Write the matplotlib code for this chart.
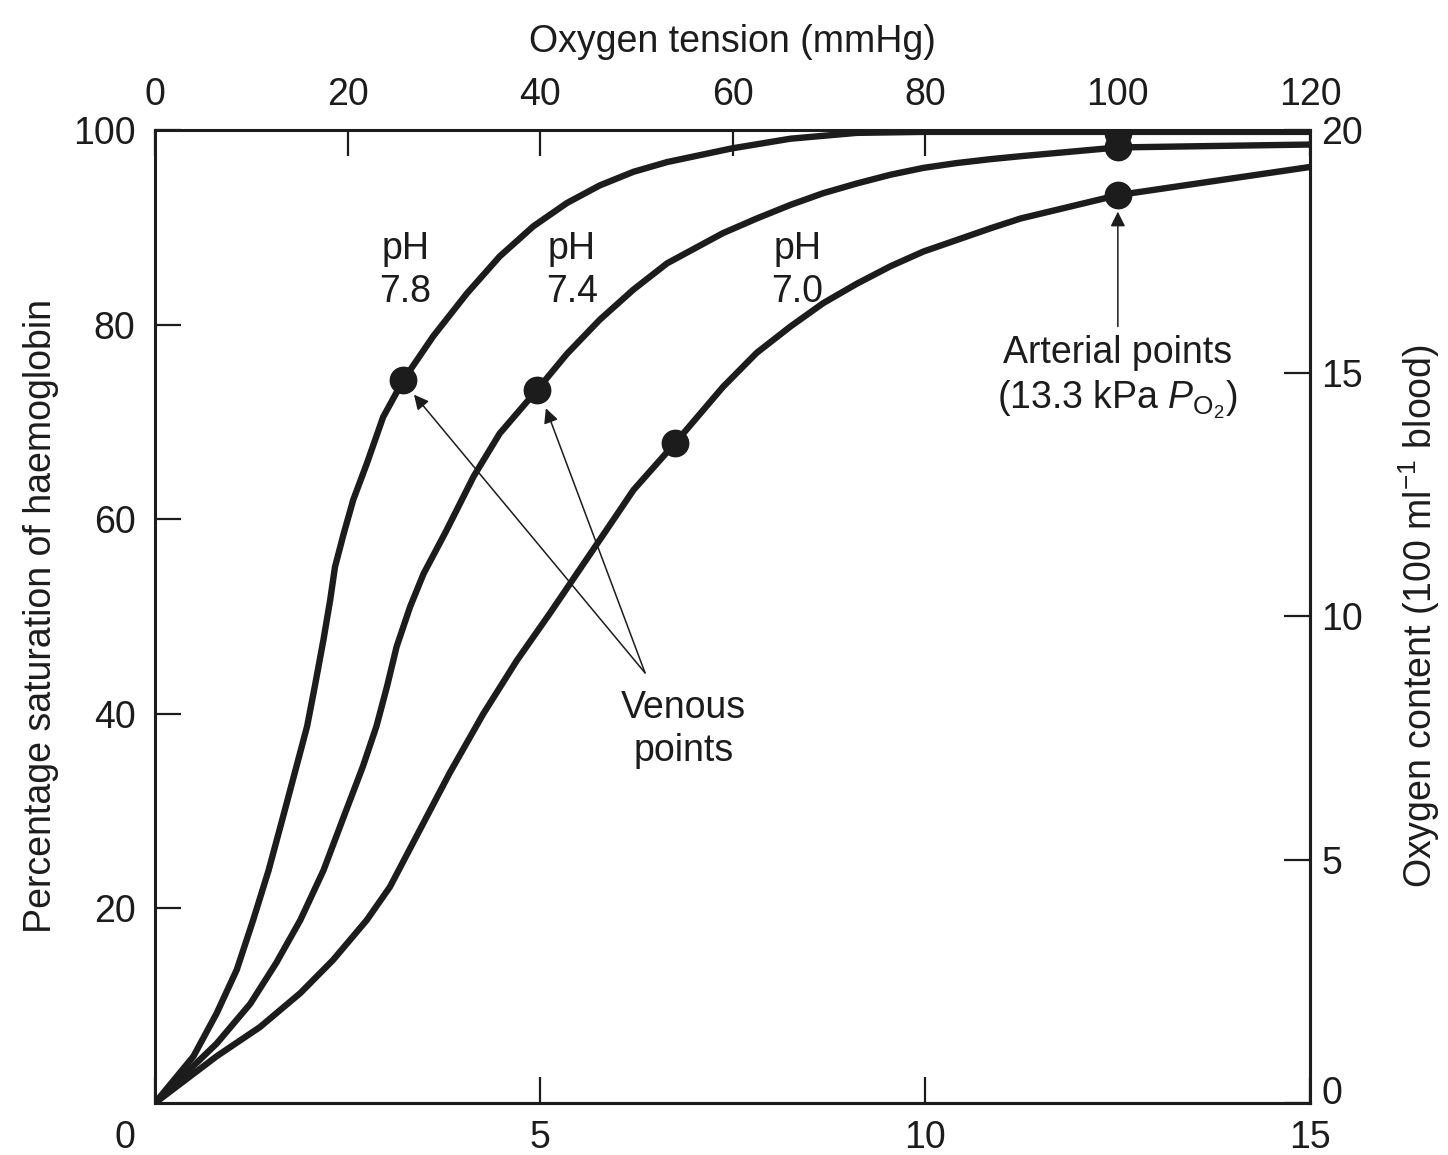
import numpy as np
import matplotlib
matplotlib.use('Agg')
import matplotlib.pyplot as plt
import matplotlib.transforms as mtransforms

plt.rcParams['font.family'] = ['Liberation Sans', 'DejaVu Sans']
plt.rcParams['mathtext.fontset'] = 'custom'
plt.rcParams['mathtext.rm'] = 'Liberation Sans'
plt.rcParams['mathtext.it'] = 'Liberation Sans:italic'

INK = '#1c1c1c'

# dissociation curves: PO2 (mmHg), saturation (%)
po2_78 = [0, 4.0, 6.4, 8.5, 10.2, 11.8, 13.3, 14.7, 15.8, 16.6, 17.5, 18.2,
          18.7, 19.6, 20.6, 22.0, 23.7, 25.8, 28.9, 32.4, 35.8, 39.3, 42.8, 46.2,
          49.7, 53.2, 59.9, 66.0, 72.9, 80, 100, 120]
sat_78 = [0, 4.8, 9.2, 13.7, 18.8, 23.9, 29.4, 34.6, 38.7, 42.8, 47.6, 51.7,
          55.1, 58.5, 62.0, 65.7, 70.5, 74.3, 78.8, 83.2, 87.0, 90.1, 92.5, 94.3,
          95.7, 96.7, 98.1, 99.1, 99.7, 99.8, 99.8, 99.8]

po2_74 = [0, 6.4, 9.9, 12.6, 15.1, 17.5, 19.6, 21.6, 23.0, 24.1, 25.1, 26.5,
          27.9, 30.2, 33.1, 35.8, 39.7, 42.8, 46.2, 49.7, 53.2, 59.0, 62.5, 66.0,
          69.4, 72.9, 76.4, 79.8, 83.3, 86.8, 89.9, 100, 120]
sat_74 = [0, 6.1, 10.2, 14.4, 18.8, 23.9, 29.4, 34.6, 38.7, 42.8, 46.9, 51.0,
          54.4, 58.7, 64.4, 68.8, 73.3, 77.0, 80.5, 83.6, 86.3, 89.4, 90.9, 92.3,
          93.5, 94.5, 95.4, 96.1, 96.6, 97.0, 97.3, 98.2, 98.5]

po2_70 = [0, 6.4, 10.9, 15.1, 18.5, 22.0, 24.4, 30.6, 34.1, 37.6, 41.0, 46.9,
          49.7, 54.0, 59.0, 62.5, 66.0, 69.4, 72.9, 76.4, 79.8, 83.3, 86.8, 89.9,
          100, 120]
sat_70 = [0, 4.8, 7.8, 11.3, 14.7, 18.8, 22.2, 33.9, 40.0, 45.5, 50.3, 58.9,
          63.0, 67.8, 73.6, 77.1, 79.8, 82.2, 84.2, 86.0, 87.5, 88.7, 89.9, 90.9,
          93.3, 96.2]

# marked points
venous_po2 = [25.8, 39.7, 54.0]
venous_sat = [74.3, 73.3, 67.8]
arterial_po2 = [100, 100, 100]
arterial_sat = [99.7, 98.2, 93.3]

ph_labels = ['pH\n7.8', 'pH\n7.4', 'pH\n7.0']
ph_label_x = [26.0, 43.3, 66.7]
ph_label_y = 85.6

mmhg_ticks = [0, 20, 40, 60, 80, 100, 120]
kpa_ticks = [0, 5, 10, 15]
content_ticks = [0, 5, 10, 15, 20]
sat_ticks = [20, 40, 60, 80, 100]

MMHG_PER_KPA = 8.0  # as the two scales are drawn in the figure

fig = plt.figure(figsize=(14.48, 11.55), dpi=100)
ax = fig.add_axes([0.107, 0.045, 0.798, 0.8425])

for x, y in [(po2_78, sat_78), (po2_74, sat_74), (po2_70, sat_70)]:
    ax.plot(x, y, color=INK, lw=4.6, solid_joinstyle='round', solid_capstyle='round')

ax.plot(venous_po2, venous_sat, 'o', color=INK, ms=19, zorder=5)
ax.plot(arterial_po2, arterial_sat, 'o', color=INK, ms=19, zorder=5)

ax.set_xlim(0, 120)
ax.set_ylim(0, 100)

for sp in ax.spines.values():
    sp.set_linewidth(2.2)
    sp.set_color(INK)

fs = 27
# top axis: mmHg
ax.xaxis.tick_top()
ax.set_xticks(mmhg_ticks)
ax.set_xticklabels([str(t) for t in mmhg_ticks])
ax.tick_params(axis='x', direction='in', length=19, width=1.6, pad=12,
               labelsize=fs, colors=INK)
ax.xaxis.set_label_position('top')
ax.set_xlabel('Oxygen tension (mmHg)', fontsize=fs, color=INK, labelpad=18)

ax.set_yticks(sat_ticks)
ax.tick_params(axis='y', direction='in', length=19, width=1.6, pad=14,
               labelsize=fs, colors=INK)
ax.set_ylabel('Percentage saturation of haemoglobin', fontsize=fs, color=INK,
              labelpad=10)

# bottom axis: kPa
kax = ax.secondary_xaxis('bottom', functions=(lambda m: m / MMHG_PER_KPA,
                                              lambda k: k * MMHG_PER_KPA))
kax.set_xticks(kpa_ticks)
kax.tick_params(direction='in', length=19, width=1.6, pad=12, labelsize=fs,
                colors=INK)
kax.spines['bottom'].set_linewidth(2.2)
zero_lab = kax.xaxis.get_majorticklabels()[0]
zero_lab.set_transform(zero_lab.get_transform() +
                       mtransforms.ScaledTranslation(-0.3, 0, fig.dpi_scale_trans))

# right axis: oxygen content
cax = ax.secondary_yaxis('right', functions=(lambda s: s / 5, lambda c: c * 5))
cax.set_yticks(content_ticks)
cax.tick_params(direction='in', length=19, width=1.6, pad=8, labelsize=fs,
                colors=INK)
cax.spines['right'].set_linewidth(2.2)
cax.set_ylabel('Oxygen content (100 ml$^{-1}$ blood)', fontsize=fs, color=INK,
               labelpad=24)
zl = cax.yaxis.get_majorticklabels()[0]
zl.set_transform(zl.get_transform() +
                 mtransforms.ScaledTranslation(0, 0.13, fig.dpi_scale_trans))

for lab, xl in zip(ph_labels, ph_label_x):
    ax.text(xl, ph_label_y, lab, ha='center', va='center', fontsize=fs,
            color=INK, linespacing=1.25)

ax.text(54.9, 38.4, 'Venous\npoints', ha='center', va='center', fontsize=fs,
        color=INK, linespacing=1.25)
ax.text(100, 74.5, 'Arterial points\n(13.3 kPa $P_{\\mathrm{O}_2}$)', ha='center',
        va='center', fontsize=fs, color=INK, linespacing=1.25)

arrow = dict(arrowstyle='-|>', color=INK, lw=1.1, mutation_scale=22,
             shrinkA=0, shrinkB=0)
ax.annotate('', xy=(26.9, 72.8), xytext=(50.9, 44.2), arrowprops=arrow)
ax.annotate('', xy=(40.6, 71.4), xytext=(50.9, 44.2), arrowprops=arrow)
ax.annotate('', xy=(100, 91.6), xytext=(100, 79.8), arrowprops=arrow)

fig.savefig('out.png', dpi=100)
